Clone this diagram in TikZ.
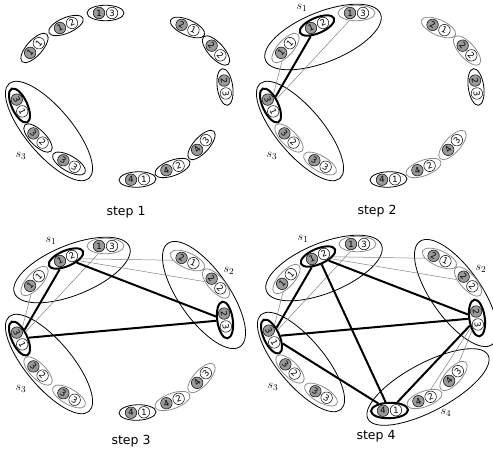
\documentclass[tikz,border=0pt]{standalone}
\usepackage{fontspec}
\setmainfont{DejaVu Sans}
\usetikzlibrary{shapes.geometric}
\tikzset{
  pe/.style={ellipse, minimum width=37pt, minimum height=15.5pt, inner sep=0pt, line width=0.8pt},
  pn/.style={pe, draw=black},
  pg/.style={pe, draw=black!45},
  pt/.style={pe, draw=black, line width=2pt},
  gc/.style={circle, draw=black, fill=black!40, line width=0.5pt, minimum size=11.5pt, inner sep=0pt, font=\fontsize{8.5}{8.5}\selectfont},
  wc/.style={circle, draw=black, fill=white, line width=0.5pt, minimum size=11.5pt, inner sep=0pt, font=\fontsize{8.5}{8.5}\selectfont},
  sell/.style={ellipse, draw=black, line width=0.8pt, inner sep=0pt},
  conthick/.style={draw=black, line width=2pt},
  congray/.style={draw=black!50, line width=0.5pt},
  steplabel/.style={font=\fontsize{12.5}{15}\selectfont},
  slab/.style={font=\fontsize{13}{15}\selectfont},
  allgray/.style={st11/.style=pg, st12/.style=pg, st13/.style=pg,
    st21/.style=pg, st22/.style=pg, st23/.style=pg,
    st31/.style=pg, st32/.style=pg, st33/.style=pg,
    st41/.style=pg, st42/.style=pg, st43/.style=pg},
  allblack/.style={st11/.style=pn, st12/.style=pn, st13/.style=pn,
    st21/.style=pn, st22/.style=pn, st23/.style=pn,
    st31/.style=pn, st32/.style=pn, st33/.style=pn,
    st41/.style=pn, st42/.style=pn, st43/.style=pn}
}
\newcommand\pairnode[7]{%
  \begin{scope}[shift={(#2,-#3)},rotate=#4,transform shape]
    \node[#7] (#1) at (0,0) {};
    \node[gc] (#1g) at (-6.5,0) {#5};
    \node[wc] (#1w) at (6.5,0) {#6};
  \end{scope}}
\newcommand\ringnodes[1]{%
  \pairnode{#111}{34.5}{48}{48}{1}{1}{st11}%
  \pairnode{#112}{66}{25.5}{23}{1}{2}{st12}%
  \pairnode{#113}{105.5}{13}{0}{1}{3}{st13}%
  \pairnode{#121}{187.5}{27.5}{-24}{2}{1}{st21}%
  \pairnode{#122}{216}{50.5}{-48}{2}{2}{st22}%
  \pairnode{#123}{225}{87}{-82}{2}{3}{st23}%
  \pairnode{#131}{19.5}{105.5}{-65}{3}{1}{st31}%
  \pairnode{#132}{38}{138}{-45}{3}{2}{st32}%
  \pairnode{#133}{69}{163.5}{-30}{3}{3}{st33}%
  \pairnode{#141}{137.5}{179.5}{2}{4}{1}{st41}%
  \pairnode{#142}{172.5}{168}{20}{4}{2}{st42}%
  \pairnode{#143}{201.5}{145}{48}{4}{3}{st43}}
\newcommand\sone[1]{%
  \node[sell, minimum width=124pt, minimum height=50pt, rotate=22] (#1s1) at (72,-37) {};
  \node[slab] (#1s1l) at (51,-8) {$s_1$};}
\newcommand\stwo[1]{%
  \node[sell, minimum width=126pt, minimum height=50pt, rotate=-55] (#1s2) at (204,-62) {};
  \node[slab] (#1s2l) at (229,-38) {$s_2$};}
\newcommand\sthree[1]{%
  \node[sell, minimum width=124pt, minimum height=46pt, rotate=-50] (#1s3) at (49,-131) {};
  \node[slab] (#1s3l) at (21,-156) {$s_3$};}
\newcommand\sfour[1]{%
  \node[sell, minimum width=136pt, minimum height=48pt, rotate=28] (#1s4) at (176,-156) {};
  \node[slab] (#1s4l) at (194,-182) {$s_4$};}
\begin{document}
\begin{tikzpicture}[x=1pt,y=1pt]
\useasboundingbox (0,0) rectangle (493,-448);
% ---------- step 1
\begin{scope}[allblack, st31/.style=pt]
  \sthree{a}
  \ringnodes{a}
\end{scope}
% ---------- step 2
\begin{scope}[shift={(251,0)}, allgray, st12/.style=pt, st31/.style=pt, st23/.style=pn, st41/.style=pn]
  \sone{b}
  \sthree{b}
  \ringnodes{b}
  \draw[congray] (b11) -- (b31);
  \draw[congray] (b13) -- (b31);
  \draw[conthick] (b12) -- (b31);
\end{scope}
% ---------- step 3
\begin{scope}[shift={(0,-233)}, allgray, st12/.style=pt, st31/.style=pt, st23/.style=pt, st41/.style=pn]
  \sone{c}
  \stwo{c}
  \sthree{c}
  \ringnodes{c}
  \draw[congray] (c11) -- (c31);
  \draw[congray] (c13) -- (c31);
  \draw[congray] (c12) -- (c21);
  \draw[congray] (c12) -- (c22);
  \draw[conthick] (c12) -- (c31);
  \draw[conthick] (c12) -- (c23);
  \draw[conthick] (c31) -- (c23);
\end{scope}
% ---------- step 4
\begin{scope}[shift={(252,-231)}, allgray, st12/.style=pt, st31/.style=pt, st23/.style=pt, st41/.style=pt]
  \sone{d}
  \stwo{d}
  \sthree{d}
  \sfour{d}
  \ringnodes{d}
  \draw[congray] (d11) -- (d31);
  \draw[congray] (d13) -- (d31);
  \draw[congray] (d12) -- (d21);
  \draw[congray] (d12) -- (d22);
  \draw[congray] (d42) -- (d23);
  \draw[congray] (d43) -- (d23);
  \draw[conthick] (d12) -- (d31);
  \draw[conthick] (d12) -- (d23);
  \draw[conthick] (d31) -- (d23);
  \draw[conthick] (d12) -- (d41);
  \draw[conthick] (d31) -- (d41);
  \draw[conthick] (d23) -- (d41);
\end{scope}
% ---------- captions
\node[steplabel] (cap1) at (126,-212) {step 1};
\node[steplabel] (cap2) at (377,-211) {step 2};
\node[steplabel] (cap3) at (131,-441) {step 3};
\node[steplabel] (cap4) at (376,-436) {step 4};
\end{tikzpicture}
\end{document}
